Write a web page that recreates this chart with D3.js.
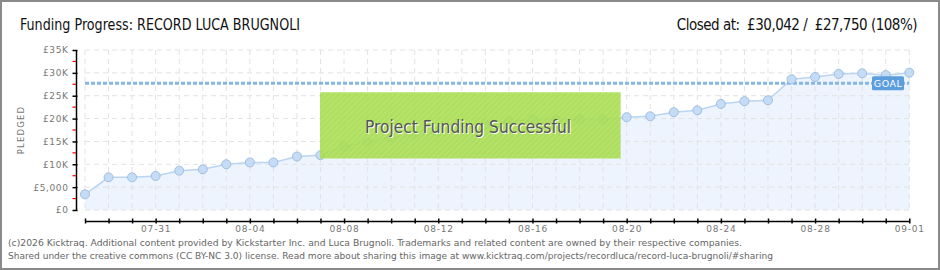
<!DOCTYPE html>
<html>
<head>
<meta charset="utf-8">
<script src="https://cdn.jsdelivr.net/npm/d3@7"></script>
<style>
  html, body { margin: 0; padding: 0; background: #fff; }
  svg { display: block; }
</style>
</head>
<body>
<div id="container"></div>
<script>
// pledged total per day, 07-28 .. 09-01
const dates = [
    "07-28", "07-29", "07-30", "07-31", "08-01", "08-02", "08-03", "08-04", "08-05",
    "08-06", "08-07", "08-08", "08-09", "08-10", "08-11", "08-12", "08-13", "08-14",
    "08-15", "08-16", "08-17", "08-18", "08-19", "08-20", "08-21", "08-22", "08-23",
    "08-24", "08-25", "08-26", "08-27", "08-28", "08-29", "08-30", "08-31", "09-01"
];
const pledged = [
    3430, 7150, 7150, 7440, 8600, 8900, 10000, 10400, 10400,
    11700, 12000, 13900, 14900, 15900, 16400, 17100, 17900, 18700,
    19400, 19800, 19800, 19800, 19800, 20300, 20500, 21400, 21800,
    23200, 23800, 24000, 28600, 29100, 29750, 29900, 29500, 30042
];
const goal = 27750;
const yTicks = [0, 5000, 10000, 15000, 20000, 25000, 30000, 35000];
const yTickLabels = ["£0", "£5,000", "£10K", "£15K", "£20K", "£25K", "£30K", "£35K"];
const xLabelDates = ["07-31", "08-04", "08-08", "08-12", "08-16", "08-20", "08-24", "08-28", "09-01"];

const title = "Funding Progress: RECORD LUCA BRUGNOLI";
const status = "Closed at:\u00a0 £30,042 /\u00a0 £27,750 (108%)";
const footer = [
    "(c)2026 Kicktraq. Additional content provided by Kickstarter Inc. and Luca Brugnoli. Trademarks and related content are owned by their respective companies.",
    "Shared under the creative commons (CC BY-NC 3.0) license. Read more about sharing this image at www.kicktraq.com/projects/recordluca/record-luca-brugnoli/#sharing"
];

const W = 940, H = 270;
const parse = d3.timeParse("%Y-%m-%d");
const toDate = s => parse("2015-" + s);
const data = dates.map((d, i) => ({date: toDate(d), value: pledged[i]}));

const x = d3.scaleTime()
    .domain([toDate(dates[0]), toDate(dates[dates.length - 1])])
    .range([85, 909.3]);
const y = d3.scaleLinear()
    .domain([0, 35000])
    .range([210, 50]);

const svg = d3.select("#container")
    .append("svg")
    .attr("width", W)
    .attr("height", H);

svg.append("rect")
    .attr("x", 1).attr("y", 1)
    .attr("width", W - 2).attr("height", H - 2)
    .attr("fill", "#fff")
    .attr("stroke", "#8a8a8a")
    .attr("stroke-width", 2);

const defs = svg.append("defs");
const hatch = defs.append("pattern")
    .attr("id", "hatch")
    .attr("patternUnits", "userSpaceOnUse")
    .attr("width", 4).attr("height", 4)
    .attr("patternTransform", "rotate(45)");
hatch.append("rect").attr("width", 4).attr("height", 4).attr("fill", "#a7dc4f");
hatch.append("rect").attr("width", 1).attr("height", 4).attr("fill", "#b3e25f");

// titles
svg.append("text")
    .attr("x", 20).attr("y", 30)
    .attr("font-family", "DejaVu Sans Condensed, sans-serif")
    .attr("font-size", 15.5)
    .attr("fill", "#111")
    .attr("textLength", 280)
    .attr("lengthAdjust", "spacingAndGlyphs")
    .text(title);
svg.append("text")
    .attr("x", 917).attr("y", 30)
    .attr("text-anchor", "end")
    .attr("font-family", "DejaVu Sans Condensed, sans-serif")
    .attr("font-size", 15)
    .attr("letter-spacing", -0.5)
    .attr("fill", "#111")
    .text(status);

// area
svg.append("path")
    .datum(data)
    .attr("fill", "#edf4fd")
    .attr("d", d3.area().x(d => x(d.date)).y0(y(0)).y1(d => y(d.value)));

// grid
const grid = svg.append("g")
    .attr("stroke", "#e2e2e2")
    .attr("stroke-dasharray", "5,4");
grid.selectAll("line.v")
    .data(data)
    .join("line")
    .attr("class", "v")
    .attr("x1", d => x(d.date)).attr("x2", d => x(d.date))
    .attr("y1", y(35000)).attr("y2", y(0));
grid.selectAll("line.h")
    .data(yTicks)
    .join("line")
    .attr("class", "h")
    .attr("x1", x.range()[0]).attr("x2", x.range()[1])
    .attr("y1", d => y(d)).attr("y2", d => y(d));

svg.append("path")
    .datum(data)
    .attr("fill", "none")
    .attr("stroke", "#b9d5f2")
    .attr("stroke-width", 1.5)
    .attr("d", d3.line().x(d => x(d.date)).y(d => y(d.value)));

// goal line
svg.append("line")
    .attr("x1", x.range()[0]).attr("x2", x.range()[1])
    .attr("y1", y(goal)).attr("y2", y(goal))
    .attr("stroke", "#86b6e6")
    .attr("stroke-width", 3)
    .attr("stroke-dasharray", "4,2");

svg.append("g")
    .selectAll("circle")
    .data(data)
    .join("circle")
    .attr("cx", d => x(d.date))
    .attr("cy", d => y(d.value))
    .attr("r", 4.5)
    .attr("fill", "#c4dcf6")
    .attr("stroke", "#9fbfe0")
    .attr("stroke-width", 1);

// goal badge
const badge = svg.append("g")
    .attr("transform", `translate(872,${y(goal) - 7})`);
badge.append("rect")
    .attr("width", 32).attr("height", 14)
    .attr("rx", 1.5)
    .attr("fill", "#5b9ddd");
badge.append("text")
    .attr("x", 16).attr("y", 11)
    .attr("text-anchor", "middle")
    .attr("font-family", "DejaVu Sans, sans-serif")
    .attr("font-size", 9.5)
    .attr("letter-spacing", 0.5)
    .attr("fill", "#fff")
    .text("GOAL");

// success box
const bx0 = x(toDate("08-07")) - 0.5, bx1 = x(toDate("08-19")) + 17.5;
svg.append("rect")
    .attr("x", bx0).attr("y", 92.5)
    .attr("width", bx1 - bx0).attr("height", 66)
    .attr("fill", "url(#hatch)")
    .attr("opacity", 0.9);
svg.append("line")
    .attr("x1", bx0).attr("x2", bx1)
    .attr("y1", 92.5).attr("y2", 92.5)
    .attr("stroke", "#c4ea88");
const bcx = 468;
svg.append("text")
    .attr("x", bcx + 1).attr("y", 133.5)
    .attr("text-anchor", "middle")
    .attr("font-family", "DejaVu Sans Condensed, sans-serif")
    .attr("font-size", 18)
    .attr("fill", "#fff")
    .attr("textLength", 206)
    .attr("lengthAdjust", "spacingAndGlyphs")
    .text("Project Funding Successful");
svg.append("text")
    .attr("x", bcx).attr("y", 132.5)
    .attr("text-anchor", "middle")
    .attr("font-family", "DejaVu Sans Condensed, sans-serif")
    .attr("font-size", 18)
    .attr("fill", "#555")
    .attr("textLength", 206)
    .attr("lengthAdjust", "spacingAndGlyphs")
    .text("Project Funding Successful");

// y axis
const yAxis = svg.append("g")
    .attr("transform", "translate(76,0)")
    .call(d3.axisLeft(y)
        .tickValues(yTicks)
        .tickFormat((d, i) => yTickLabels[i])
        .tickSizeInner(3.5)
        .tickSizeOuter(0)
        .tickPadding(4));
yAxis.select(".domain").attr("stroke", "#000").attr("stroke-width", 1.5);
yAxis.selectAll(".tick line").attr("x2", 1.5).attr("x1", -3.5).attr("stroke", "#000").attr("stroke-width", 1.5);
yAxis.selectAll(".tick text")
    .attr("font-family", "DejaVu Sans, sans-serif")
    .attr("font-size", 9)
    .attr("letter-spacing", 0.6)
    .attr("fill", "#777");
yAxis.selectAll("line.minor")
    .data(d3.range(2500, 35000, 5000))
    .join("line")
    .attr("class", "minor")
    .attr("x1", -3.5).attr("x2", 0)
    .attr("y1", d => y(d)).attr("y2", d => y(d))
    .attr("stroke", "#e00")
    .attr("stroke-width", 1.2);

svg.append("text")
    .attr("transform", `translate(24,${y(17500)}) rotate(-90)`)
    .attr("text-anchor", "middle")
    .attr("font-family", "DejaVu Sans, sans-serif")
    .attr("font-size", 8.5)
    .attr("letter-spacing", 1.2)
    .attr("fill", "#777")
    .text("PLEDGED");

// x axis
const labelSet = new Set(xLabelDates);
const xAxis = svg.append("g")
    .attr("transform", "translate(0,221)")
    .call(d3.axisBottom(x)
        .tickValues(data.map(d => d.date))
        .tickFormat(d => {
            const s = d3.timeFormat("%m-%d")(d);
            return labelSet.has(s) ? s : "";
        })
        .tickSizeInner(2.5)
        .tickSizeOuter(0)
        .tickPadding(2));
xAxis.select(".domain").attr("stroke", "#000").attr("stroke-width", 1.5);
xAxis.selectAll(".tick line").attr("y1", -2.5).attr("stroke", "#000").attr("stroke-width", 1.5);
xAxis.selectAll(".tick text")
    .attr("font-family", "DejaVu Sans, sans-serif")
    .attr("font-size", 9)
    .attr("letter-spacing", 0.8)
    .attr("fill", "#777");

// footer
svg.append("g")
    .selectAll("text")
    .data(footer)
    .join("text")
    .attr("x", 8)
    .attr("y", (d, i) => 246 + i * 13)
    .attr("font-family", "DejaVu Sans Condensed, sans-serif")
    .attr("font-size", 9.5)
    .attr("fill", "#666")
    .attr("textLength", (d, i) => i === 0 ? 734 : 765)
    .attr("lengthAdjust", "spacingAndGlyphs")
    .text(d => d);
</script>
</body>
</html>
